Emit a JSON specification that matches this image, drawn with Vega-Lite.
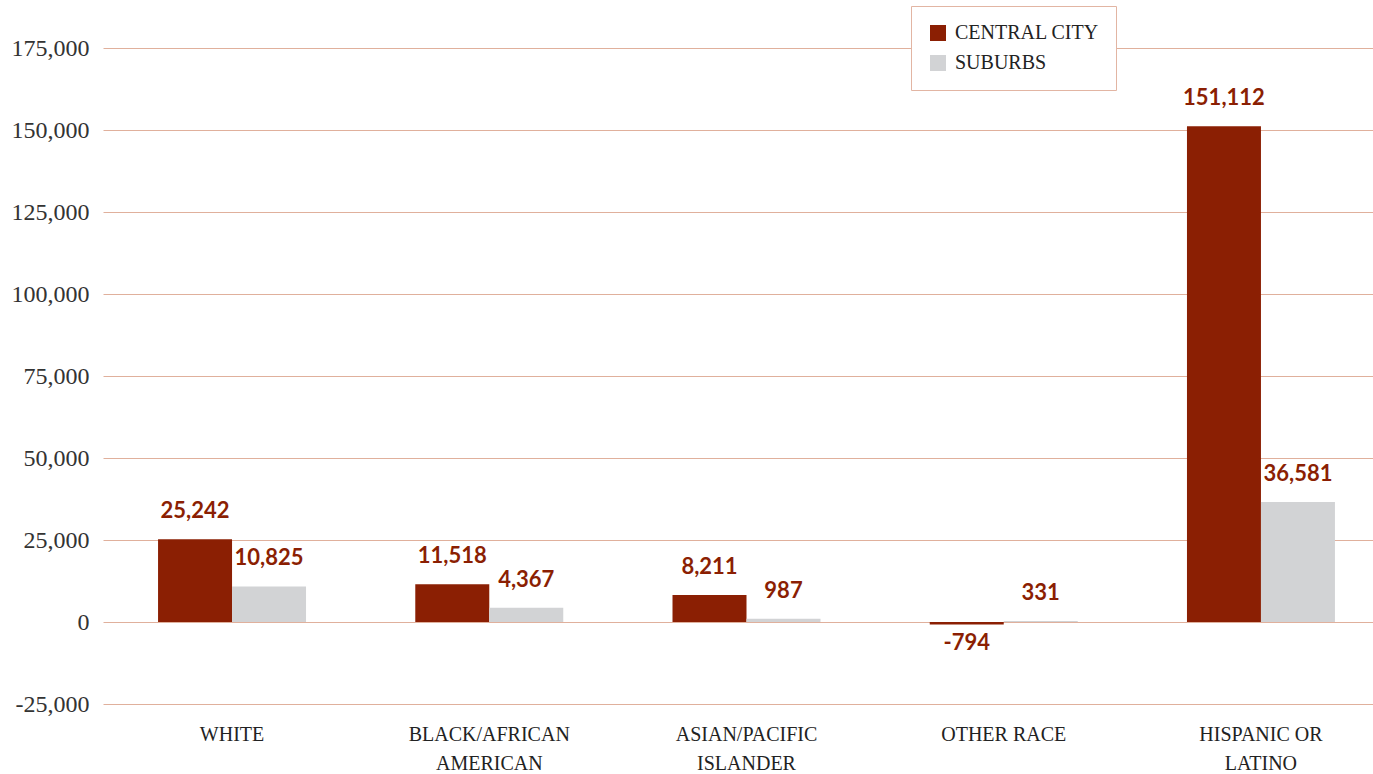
{
  "$schema": "https://vega.github.io/schema/vega-lite/v6.json",
  "autosize": {"type": "none"},
  "padding": {"left": 103, "top": 48, "right": 0, "bottom": 70},
  "width": 1270,
  "height": 656,
  "background": "white",
  "config": {
    "view": {"stroke": null},
    "font": "Liberation Serif",
    "locale": {
      "number": {"decimal": ".", "thousands": ",", "grouping": [3], "currency": ["$", ""], "minus": "-"}
    }
  },
  "data": {
    "values": [
      {"race": "White", "area": "Central City", "value": 25242},
      {"race": "White", "area": "Suburbs", "value": 10825},
      {"race": "Black/African American", "area": "Central City", "value": 11518},
      {"race": "Black/African American", "area": "Suburbs", "value": 4367},
      {"race": "Asian/Pacific Islander", "area": "Central City", "value": 8211},
      {"race": "Asian/Pacific Islander", "area": "Suburbs", "value": 987},
      {"race": "Other Race", "area": "Central City", "value": -794},
      {"race": "Other Race", "area": "Suburbs", "value": 331},
      {"race": "Hispanic or Latino", "area": "Central City", "value": 151112},
      {"race": "Hispanic or Latino", "area": "Suburbs", "value": 36581}
    ]
  },
  "encoding": {
    "x": {
      "field": "race",
      "type": "nominal",
      "sort": null,
      "scale": {"range": [0, 1287], "paddingInner": 0.4247, "paddingOuter": 0.214},
      "axis": {
        "title": null,
        "domain": false,
        "ticks": false,
        "labelAngle": 0,
        "labelPadding": 20,
        "labelFont": "Liberation Serif",
        "labelFontSize": 20,
        "labelColor": "#222222",
        "labelLineHeight": 29,
        "labelExpr": "datum.value == 'Black/African American' ? ['BLACK/AFRICAN', 'AMERICAN'] : datum.value == 'Asian/Pacific Islander' ? ['ASIAN/PACIFIC', 'ISLANDER'] : datum.value == 'Hispanic or Latino' ? ['HISPANIC OR', 'LATINO'] : upper(datum.value)"
      }
    },
    "xOffset": {
      "field": "area",
      "type": "nominal",
      "sort": ["Central City", "Suburbs"],
      "scale": {"paddingInner": 0, "paddingOuter": 0}
    },
    "y": {
      "field": "value",
      "type": "quantitative",
      "scale": {"domain": [-25000, 175000], "nice": false, "zero": false},
      "axis": {
        "title": null,
        "values": [-25000, 0, 25000, 50000, 75000, 100000, 125000, 150000, 175000],
        "domain": false,
        "ticks": false,
        "labelPadding": 14,
        "labelFont": "Liberation Serif",
        "labelFontSize": 24,
        "labelColor": "#333333",
        "gridColor": "#E0B09C",
        "gridWidth": 1,
        "gridOpacity": 1,
        "format": ",.0f"
      }
    }
  },
  "layer": [
    {
      "mark": {"type": "bar"},
      "encoding": {
        "color": {
          "field": "area",
          "type": "nominal",
          "scale": {"domain": ["Central City", "Suburbs"], "range": ["#8B1F03", "#D2D3D5"]},
          "legend": {
            "title": null,
            "orient": "none",
            "legendX": 808,
            "legendY": -42,
            "direction": "vertical",
            "strokeColor": "#E2B5A3",
            "fillColor": "white",
            "padding": 17,
            "symbolType": "square",
            "symbolSize": 256,
            "symbolStrokeWidth": 0,
            "symbolOpacity": 1,
            "labelFont": "Liberation Serif",
            "labelFontSize": 20,
            "labelColor": "#222222",
            "labelOffset": 7,
            "rowPadding": 10,
            "labelExpr": "upper(datum.label)"
          }
        }
      }
    },
    {
      "transform": [{"filter": "datum.value >= 0"}],
      "mark": {"type": "text", "baseline": "bottom", "dy": -16, "font": "Lato", "fontWeight": "bold", "fontSize": 22, "color": "#8B1F03"},
      "encoding": {
        "text": {"field": "value", "type": "quantitative", "format": ","}
      }
    },
    {
      "transform": [{"filter": "datum.value < 0"}],
      "mark": {"type": "text", "baseline": "top", "dy": 8, "font": "Lato", "fontWeight": "bold", "fontSize": 22, "color": "#8B1F03"},
      "encoding": {
        "text": {"field": "value", "type": "quantitative", "format": ","}
      }
    }
  ]
}
